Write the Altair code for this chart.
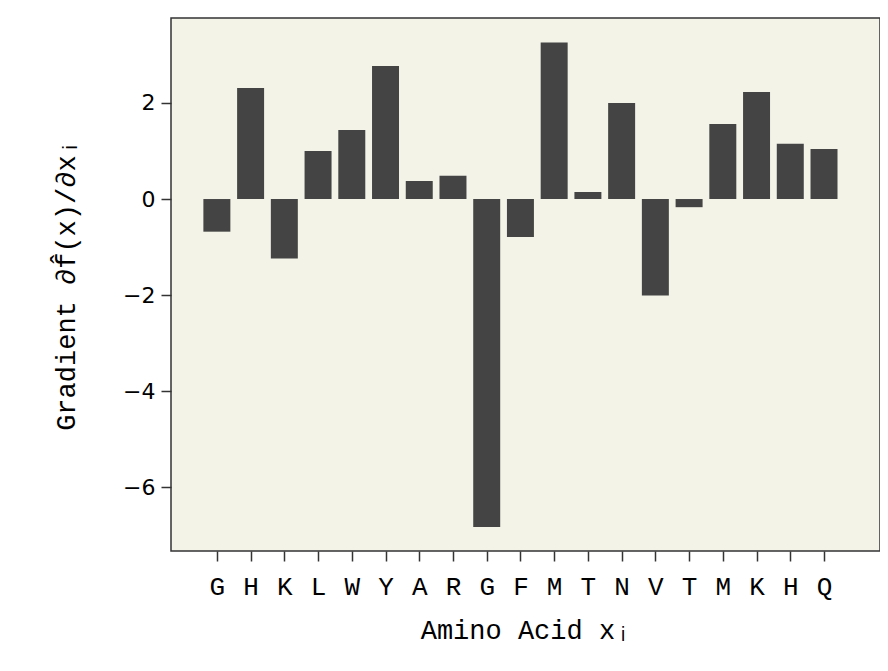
import altair as alt
import pandas as pd

letters = ["G", "H", "K", "L", "W", "Y", "A", "R", "G", "F", "M", "T", "N", "V", "T", "M", "K", "H", "Q"]
values = [-0.68, 2.31, -1.24, 1.0, 1.44, 2.77, 0.375, 0.485, -6.83, -0.79, 3.26, 0.146, 2.0, -2.01, -0.17, 1.56, 2.23, 1.15, 1.04]

df = pd.DataFrame({"idx": list(range(len(letters))), "letter": letters, "grad": values})

label_expr = "[" + ",".join("'%s'" % l for l in letters) + "][datum.value]"
font = "Courier New, Liberation Mono, monospace"

chart = alt.Chart(df).transform_calculate(
    x0="datum.idx - 0.4", x1="datum.idx + 0.4", zero="0"
).mark_bar(color="#444444").encode(
    x=alt.X("x0:Q", scale=alt.Scale(domain=[-1.36, 19.66], nice=False, zero=False),
            axis=alt.Axis(values=list(range(len(letters))), labelExpr=label_expr,
                          title="Amino Acid xᵢ", grid=False, domain=False,
                          tickSize=10, tickColor="#333", tickWidth=1.5,
                          labelFontSize=26, labelFont=font, labelColor="#000",
                          labelPadding=12, labelFlush=False, labelOverlap=False,
                          titleFontSize=27, titleFont=font, titleFontWeight="normal",
                          titleColor="#000", titlePadding=18)),
    x2="x1:Q",
    y=alt.Y("grad:Q", scale=alt.Scale(domain=[-7.33, 3.77], nice=False),
            axis=alt.Axis(values=[-6, -4, -2, 0, 2], title="Gradient  ∂f̂(x)/∂xᵢ",
                          grid=False, domain=False, tickSize=10, tickColor="#333",
                          tickWidth=1.5, labelFontSize=22, labelFont="DejaVu Sans",
                          labelColor="#000", labelPadding=6,
                          titleFontSize=27, titleFont=font, titleFontWeight="normal",
                          titleColor="#000", titlePadding=42)),
    y2="zero:Q",
).properties(
    width=709, height=533,
    background="white",
    autosize=alt.AutoSizeParams(type="none"),
    padding={"left": 163, "top": 10, "right": 0, "bottom": 110},
).configure_view(
    fill="#f3f3e8", stroke="#333333", strokeWidth=1.5
)

chart.save("out.html", embed_options={"renderer": "svg", "actions": False})
